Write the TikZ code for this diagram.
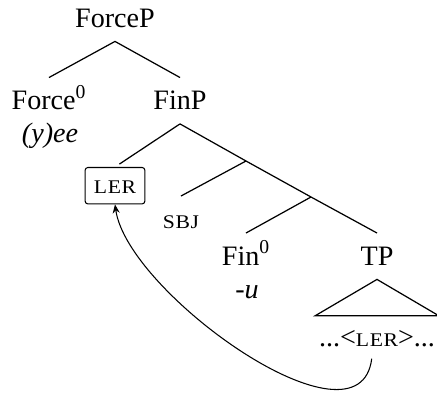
\documentclass[tikz,border=0pt]{standalone}
\usepackage{fontspec}
\setmainfont{Liberation Serif}
\usetikzlibrary{arrows.meta}
\newcommand{\smcaps}[1]{{\fontsize{11}{13}\selectfont\addfontfeature{FakeStretch=1.12,LetterSpace=3} #1}}

\begin{document}
\begin{tikzpicture}[
		font=\fontsize{16}{19}\selectfont,
		cat/.style={anchor=base, inner xsep=0pt, inner ysep=8pt, text height=10pt, text depth=0pt},
		gloss/.style={anchor=base, font=\fontsize{16}{19}\selectfont\itshape},
		boxed/.style={anchor=base, draw, rounded corners=1.5pt, line width=0.6pt, inner xsep=5pt, inner ysep=4.5pt, text height=10pt, text depth=1.7pt},
		branch/.style={line width=0.7pt}
	]
		%%%%% START %%%%%
		
		\useasboundingbox (0, 0) rectangle (8.74, 7.84);
		
		\node[cat] (forcep) at (2.30, 7.30) {ForceP};
		\node[cat] (force) at (0.98, 5.65) {Force\textsuperscript{0}};
		\node[cat] (finp) at (3.60, 5.65) {FinP};
		\node[gloss] (yee) at (1.00, 5.00) {(y)ee};
		
		\draw[branch] (forcep.south) -- (force.north);
		\draw[branch] (forcep.south) -- (finp.north);
		
		\coordinate (finbar1) at (4.92, 4.62);
		\coordinate (finbar2) at (6.22, 3.90);
		
		\node[boxed] (ler) at (2.30, 3.98) {\smcaps{LER}};
		\node[cat] (sbj) at (3.62, 3.28) {\smcaps{SBJ}};
		\node[cat] (fin) at (4.92, 2.54) {Fin\textsuperscript{0}};
		\node[cat] (tp) at (7.54, 2.54) {TP};
		\node[gloss] (u) at (4.94, 1.88) {-u};
		
		\draw[branch, shorten >=3pt] (finp.south) -- (ler.north);
		\draw[branch] (finp.south) -- (finbar1) -- (finbar2) -- (tp.north);
		\draw[branch] (finbar1) -- (sbj.north);
		\draw[branch] (finbar2) -- (fin.north);
		
		\node[cat, inner ysep=7pt, minimum width=70pt] (trace) at (7.54, 0.92) {...<\smcaps{LER}>...};
		\draw[branch] (tp.south) -- (trace.north west) -- (trace.north east) -- cycle;
		
		\draw[line width=0.6pt, -{Stealth[length=5pt, width=4pt]}] ([xshift=-3pt]trace.south) .. controls +(-97:2.0) and +(-82:1.8) .. (ler.south);
		
		%%%%% END %%%%%
	\end{tikzpicture}
\end{document}
